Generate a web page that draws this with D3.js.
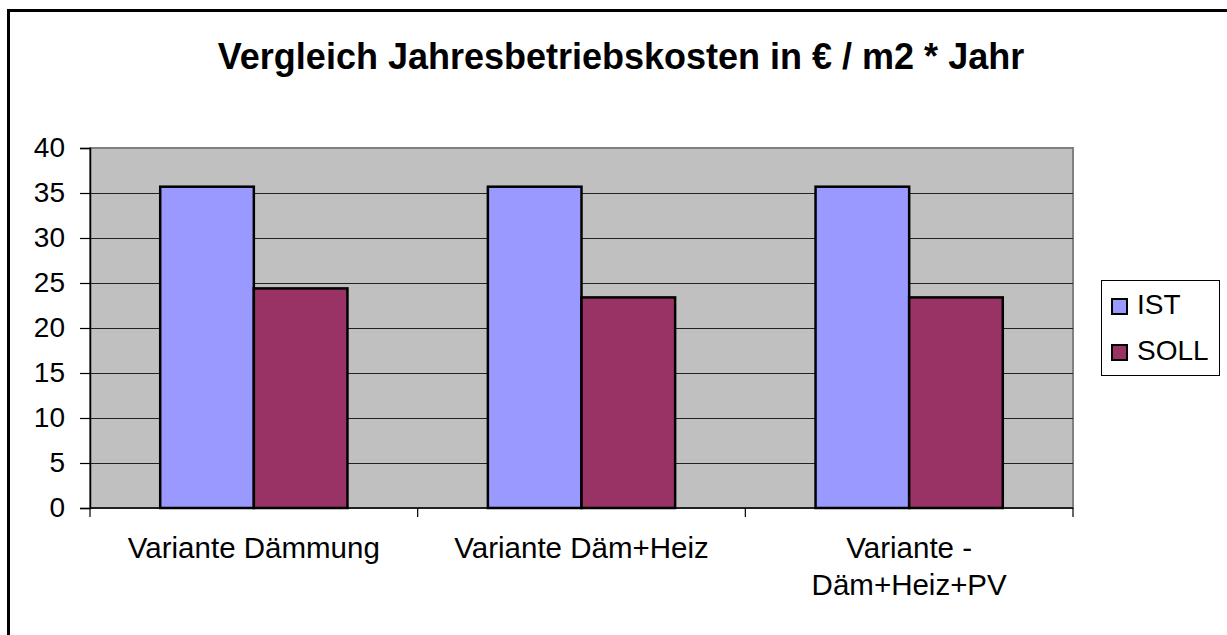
<!DOCTYPE html>
<html>
<head>
<meta charset="utf-8">
<script src="https://cdn.jsdelivr.net/npm/d3@7"></script>
<style>
  body { margin: 0; background: #fff; overflow: hidden; }
  svg { display: block; font-family: "Liberation Sans", Arial, sans-serif; }
</style>
</head>
<body>
<div id="chart"></div>
<script>
const categories = ["Variante Dämmung", "Variante Däm+Heiz", "Variante -\nDäm+Heiz+PV"];
const series = ["IST", "SOLL"];
const istValues = [35.7, 35.7, 35.7];
const sollValues = [24.4, 23.4, 23.4];
const yTicks = [0, 5, 10, 15, 20, 25, 30, 35, 40];

const colors = { IST: "#9999FF", SOLL: "#993366" };

const width = 1227;
const height = 635;
const plot = { left: 90, right: 1073, top: 148, bottom: 508 };

const data = categories.map((c, i) => ({ category: c, IST: istValues[i], SOLL: sollValues[i] }));

const svg = d3.select("#chart")
  .append("svg")
  .attr("width", width)
  .attr("height", height);

// outer chart border: only top and left edges lie inside the picture
svg.append("path")
  .attr("d", `M8.5,${height}V10.5H${width}`)
  .attr("fill", "none")
  .attr("stroke", "#000")
  .attr("stroke-width", 3);

// title
svg.append("text")
  .attr("x", 621)
  .attr("y", 69)
  .attr("text-anchor", "middle")
  .attr("font-size", "36px")
  .attr("font-weight", "bold")
  .text("Vergleich Jahresbetriebskosten in € / m2 * Jahr");

const x0 = d3.scaleBand()
  .domain(categories)
  .range([plot.left, plot.right]);

// gap width 150%: bar = band / 3.5
const x1 = d3.scaleBand()
  .domain(series)
  .range([x0.bandwidth() * 0.75 / 3.5, x0.bandwidth() - x0.bandwidth() * 0.75 / 3.5]);

const y = d3.scaleLinear()
  .domain([0, 40])
  .range([plot.bottom, plot.top]);

// plot area
svg.append("rect")
  .attr("x", plot.left)
  .attr("y", plot.top)
  .attr("width", plot.right - plot.left)
  .attr("height", plot.bottom - plot.top)
  .attr("fill", "#C0C0C0")
  .attr("stroke", "#808080")
  .attr("stroke-width", 2);

// gridlines
svg.append("g")
  .selectAll("line")
  .data(yTicks.filter(d => d > 0 && d < 40))
  .enter()
  .append("line")
  .attr("x1", plot.left)
  .attr("x2", plot.right)
  .attr("y1", d => Math.round(y(d)) + 0.5)
  .attr("y2", d => Math.round(y(d)) + 0.5)
  .attr("stroke", "#222")
  .attr("stroke-width", 1.2);

// bars
svg.append("g")
  .selectAll("g")
  .data(data)
  .enter()
  .append("g")
  .attr("transform", d => `translate(${x0(d.category)},0)`)
  .selectAll("rect")
  .data(d => series.map(s => ({ key: s, value: d[s] })))
  .enter()
  .append("rect")
  .attr("x", d => x1(d.key))
  .attr("y", d => y(d.value))
  .attr("width", x1.bandwidth())
  .attr("height", d => y(0) - y(d.value))
  .attr("fill", d => colors[d.key])
  .attr("stroke", "#000")
  .attr("stroke-width", 2.5);

// y axis
const yAxis = svg.append("g")
  .attr("transform", `translate(${plot.left},0)`)
  .call(d3.axisLeft(y).tickValues(yTicks).tickSize(10).tickPadding(15));
yAxis.select(".domain").attr("stroke", "#000").attr("stroke-width", 1.5);
yAxis.selectAll(".tick line").attr("stroke", "#000").attr("stroke-width", 1.2);
yAxis.selectAll("text")
  .attr("font-size", "28px")
  .attr("fill", "#000")
  .attr("font-family", "Liberation Sans, Arial, sans-serif");

// x axis
const xAxis = svg.append("g")
  .attr("transform", `translate(0,${plot.bottom})`);
xAxis.append("line")
  .attr("x1", plot.left)
  .attr("x2", plot.right)
  .attr("stroke", "#000")
  .attr("stroke-width", 1.5);
xAxis.selectAll(".xtick")
  .data(categories.concat(["end"]))
  .enter()
  .append("line")
  .attr("x1", (d, i) => i < categories.length ? x0(d) : plot.right)
  .attr("x2", (d, i) => i < categories.length ? x0(d) : plot.right)
  .attr("y1", 0)
  .attr("y2", 9)
  .attr("stroke", "#000")
  .attr("stroke-width", 1.2);

xAxis.selectAll(".xlabel")
  .data(categories)
  .enter()
  .append("text")
  .attr("text-anchor", "middle")
  .attr("font-size", "29.5px")
  .attr("transform", d => `translate(${x0(d) + x0.bandwidth() / 2},50)`)
  .selectAll("tspan")
  .data(d => d.split("\n"))
  .enter()
  .append("tspan")
  .attr("x", 0)
  .attr("dy", (d, i) => i === 0 ? 0 : 37)
  .text(d => d);

// legend
const legend = svg.append("g");
legend.append("rect")
  .attr("x", 1101.5)
  .attr("y", 280.5)
  .attr("width", 118)
  .attr("height", 95)
  .attr("fill", "#fff")
  .attr("stroke", "#000")
  .attr("stroke-width", 1);

const legendItems = legend.selectAll(".item")
  .data(series)
  .enter()
  .append("g")
  .attr("transform", (d, i) => `translate(1112,${299 + i * 46})`);
legendItems.append("rect")
  .attr("width", 15)
  .attr("height", 15)
  .attr("fill", d => colors[d])
  .attr("stroke", "#000")
  .attr("stroke-width", 2);
legendItems.append("text")
  .attr("x", 25)
  .attr("y", 15)
  .attr("font-size", "28px")
  .text(d => d);
</script>
</body>
</html>
